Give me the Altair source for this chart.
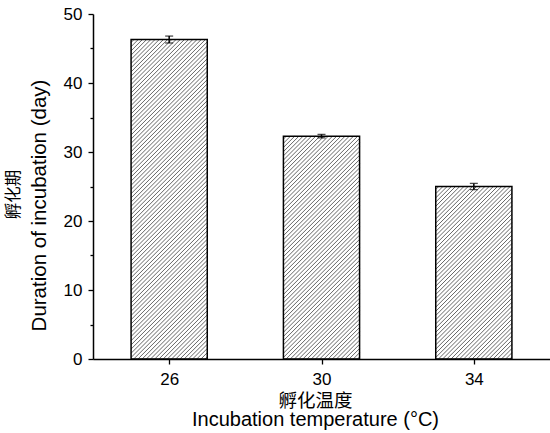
import altair as alt
import pandas as pd

# ---- data ----
temps = ["26", "30", "34"]
means = [46.3, 32.3, 25.0]
errs = [0.5, 0.25, 0.45]

PLOT_W, PLOT_H = 457, 345
X_MAX, Y_MAX = 3, 50
HALF = 0.25  # half bar width in x units (band units)

df = pd.DataFrame({
    "temp": temps,
    "mean": means,
    "err": errs,
})
df["xc"] = [i + 0.5 for i in range(len(temps))]
df["x0"] = df["xc"] - HALF
df["x1"] = df["xc"] + HALF
df["lo"] = df["mean"] - df["err"]
df["hi"] = df["mean"] + df["err"]


def hatch_segments(values, spacing=4.2):
    """Diagonal '/' hatch lines clipped to each bar, expressed in data units."""
    px_x = PLOT_W / X_MAX
    px_y = PLOT_H / Y_MAX
    rows = []
    for i, v in enumerate(values):
        w = 2 * HALF * px_x
        h = v * px_y
        c = -w + spacing / 2
        while c < h:
            a = max(0.0, -c)
            b = min(w, h - c)
            if b > a:
                left = i + 0.5 - HALF
                rows.append({
                    "hx": left + a / px_x, "hy": (a + c) / px_y,
                    "hx2": left + b / px_x, "hy2": (b + c) / px_y,
                })
            c += spacing
    return pd.DataFrame(rows)


hatch_df = hatch_segments(means)

label_list = "[" + ",".join(f"'{t}'" for t in temps) + "]"
xaxis = alt.Axis(
    values=[i + 0.5 for i in range(len(temps))],
    labelExpr=f"{label_list}[floor(datum.value)]",
    title=None, grid=False, tickSize=5, tickWidth=1.3, tickColor="black",
    domainColor="black", domainWidth=1.5, labelFont="Liberation Sans",
    labelFontSize=17, labelColor="black", labelPadding=7,
)
xscale = alt.Scale(domain=[0, X_MAX], nice=False, zero=False)
yscale = alt.Scale(domain=[0, Y_MAX], nice=False)

yaxis_major = alt.Axis(
    values=[0, 10, 20, 30, 40, 50], grid=False, tickSize=5, tickWidth=1.3,
    tickColor="black", domainColor="black", domainWidth=1.5, orient="left",
    labelFont="Liberation Sans", labelFontSize=17, labelColor="black",
    labelPadding=6, title="Duration of incubation (day)",
    titleFont="Liberation Sans", titleFontSize=20.5, titleFontWeight="normal",
    titleColor="black", titleY=191, titlePadding=14,
)
yaxis_minor = alt.Axis(
    values=[5, 15, 25, 35, 45], grid=False, labels=False, domain=False,
    tickSize=3, tickWidth=1.3, tickColor="black", orient="left",
    title="孵化期", titleFont="Noto Sans CJK SC", titleFontSize=16.5,
    titleFontWeight="normal", titleColor="black", titleY=180, titlePadding=68,
)

hatch = alt.Chart(hatch_df).mark_rule(color="#4a4a4a", strokeWidth=0.85).encode(
    x=alt.X("hx:Q", scale=xscale, axis=xaxis),
    x2="hx2:Q",
    y=alt.Y("hy:Q", scale=yscale, axis=yaxis_minor),
    y2="hy2:Q",
)

outline = alt.Chart(df).mark_bar(
    fillOpacity=0, stroke="black", strokeWidth=1.5
).encode(
    x=alt.X("x0:Q", scale=xscale, axis=xaxis),
    x2="x1:Q",
    y=alt.Y("mean:Q", scale=yscale, axis=yaxis_major),
    y2=alt.datum(0),
)

err_rule = alt.Chart(df).mark_rule(color="black", strokeWidth=1.5).encode(
    x=alt.X("xc:Q", scale=xscale, axis=xaxis),
    y=alt.Y("lo:Q", scale=yscale, axis=None),
    y2="hi:Q",
)
cap_hi = alt.Chart(df).mark_tick(
    color="black", size=8, thickness=1.3, orient="horizontal"
).encode(
    x=alt.X("xc:Q", scale=xscale, axis=xaxis),
    y=alt.Y("hi:Q", scale=yscale, axis=None),
)
cap_lo = alt.Chart(df).mark_tick(
    color="black", size=8, thickness=1.3, orient="horizontal"
).encode(
    x=alt.X("xc:Q", scale=xscale, axis=xaxis),
    y=alt.Y("lo:Q", scale=yscale, axis=None),
)

chart = alt.layer(hatch, outline, err_rule, cap_hi, cap_lo).resolve_axis(
    y="independent"
).properties(
    width=PLOT_W,
    height=PLOT_H,
    background="white",
    autosize=alt.AutoSizeParams(type="none"),
    padding={"left": 93, "top": 14, "right": 0, "bottom": 74},
    title=alt.TitleParams(
        text="孵化温度",
        subtitle="Incubation temperature (°C)",
        orient="bottom", anchor="middle", frame="group",
        font="Noto Sans CJK SC", fontSize=18.5, fontWeight="normal", color="black",
        subtitleFont="Liberation Sans", subtitleFontSize=20,
        subtitleColor="black", subtitlePadding=-1, offset=5, dx=-6,
    ),
).configure_view(strokeWidth=0, stroke="transparent")

chart.save("out.html", embed_options={"renderer": "svg", "actions": False})
